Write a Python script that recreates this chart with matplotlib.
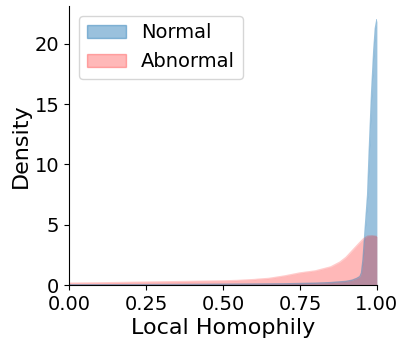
import matplotlib
matplotlib.use("Agg")
import matplotlib.pyplot as plt
from matplotlib.patches import Patch

normal_x = [0.0, 0.2, 0.4, 0.6, 0.7, 0.8, 0.85, 0.9, 0.92, 0.935, 0.945, 0.95, 0.955, 0.961, 0.97, 0.975, 0.983, 0.99, 0.995, 1.0]
normal_d = [0.02, 0.03, 0.05, 0.08, 0.1, 0.15, 0.2, 0.3, 0.4, 0.55, 0.7, 1.0, 2.1, 4.3, 7.5, 11.0, 16.0, 19.5, 21.3, 22.0]
abnormal_x = [0.0, 0.1, 0.2, 0.3, 0.4, 0.5, 0.55, 0.6, 0.65, 0.7, 0.75, 0.8, 0.85, 0.88, 0.9, 0.92, 0.94, 0.955, 0.97, 0.985, 1.0]
abnormal_d = [0.15, 0.18, 0.22, 0.26, 0.3, 0.34, 0.38, 0.45, 0.55, 0.75, 1.0, 1.17, 1.5, 1.9, 2.3, 2.85, 3.4, 3.8, 4.05, 4.08, 4.02]
labels = ["Normal", "Abnormal"]
x_ticks = [0.0, 0.25, 0.5, 0.75, 1.0]
y_ticks = [0, 5, 10, 15, 20]

fig = plt.figure(figsize=(4.07, 3.48), dpi=100)
ax = fig.add_axes([0.170, 0.181, 0.756, 0.802])

blue = "#1f77b4"
red = "#ff0000"
ax.fill_between(normal_x, normal_d, color=blue, alpha=0.45, linewidth=0)
ax.plot(normal_x, normal_d, color=blue, alpha=0.45, linewidth=1)
ax.fill_between(abnormal_x, abnormal_d, color=red, alpha=0.28, linewidth=0)
ax.plot(abnormal_x, abnormal_d, color=red, alpha=0.2, linewidth=1)

ax.set_xlim(0, 1.0)
ax.set_ylim(0, 23.15)
ax.set_xticks(x_ticks)
ax.set_xticklabels([f"{v:.2f}" for v in x_ticks])
ax.set_yticks(y_ticks)
ax.tick_params(labelsize=14)
ax.set_xlabel("Local Homophily", fontsize=16, labelpad=3)
ax.set_ylabel("Density", fontsize=16, labelpad=3)
ax.spines["top"].set_visible(False)
ax.spines["right"].set_visible(False)

handles = [Patch(facecolor=blue, alpha=0.45, edgecolor=blue),
           Patch(facecolor=red, alpha=0.28, edgecolor=red)]
ax.legend(handles, labels, loc="upper left", fontsize=14, frameon=True)

fig.savefig("out.png", dpi=100)
